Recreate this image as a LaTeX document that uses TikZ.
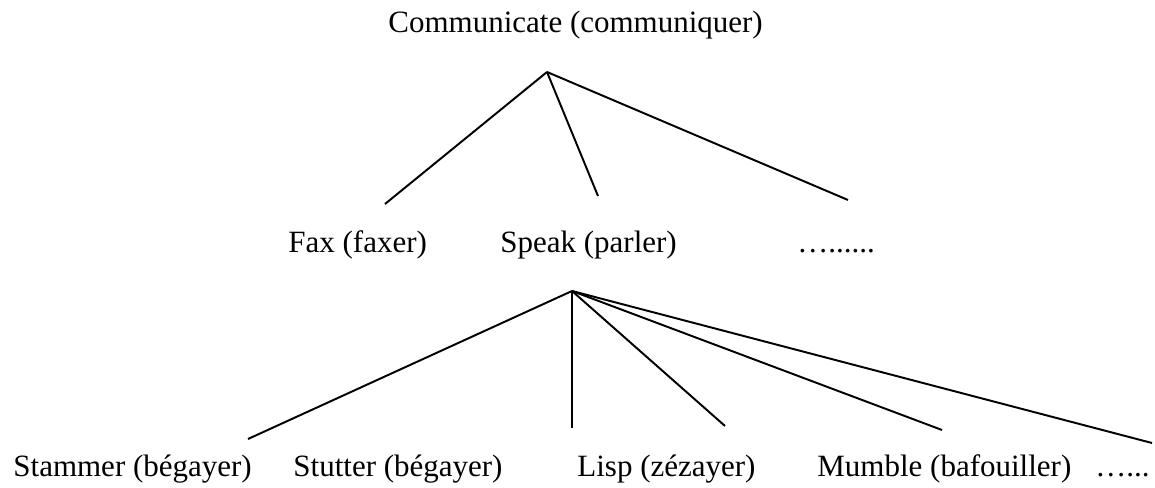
\documentclass[tikz,border=0pt]{standalone}
\usepackage{fontspec}
\setmainfont{Liberation Serif}
\usetikzlibrary{positioning}

\begin{document}
\begin{tikzpicture}[
  x=0.01622cm, y=-0.01622cm,
  word/.style={anchor=base west, inner sep=0pt, font=\fontsize{14.3}{17}\selectfont},
  branch/.style={line width=0.9pt, color=black}
]
  \useasboundingbox (0,0) rectangle (1155,488);

  % labels
  \node[word] (comm)  at (388,33)  {Communicate (communiquer)};
  \node[word] (fax)   at (288,253) {Fax (faxer)};
  \node[word] (speak) at (500,253) {Speak (parler)};
  \node[word] (more1) at (797,253) {…......};
  \node[word] (stam)  at (13,476)  {Stammer (bégayer)};
  \node[word] (stut)  at (293,476) {Stutter (bégayer)};
  \node[word] (lisp)  at (577,476) {Lisp (zézayer)};
  \node[word] (mumb)  at (817,476) {Mumble (bafouiller)};
  \node[word] (more2) at (1095,476) {…...};

  % branch points and line ends
  \coordinate (top)   at (547,72);
  \coordinate (tfax)  at (385,204);
  \coordinate (tspk)  at (598,196);
  \coordinate (tmor)  at (848,200);
  \coordinate (mid)   at (572,291);
  \coordinate (bstam) at (248,439);
  \coordinate (bstut) at (572,428);
  \coordinate (blisp) at (725,426);
  \coordinate (bmumb) at (942,430);
  \coordinate (bmore) at (1152,443);

  \draw[branch] (top)--(tfax);
  \draw[branch] (top)--(tspk);
  \draw[branch] (top)--(tmor);
  \draw[branch] (mid)--(bstam);
  \draw[branch] (mid)--(bstut);
  \draw[branch] (mid)--(blisp);
  \draw[branch] (mid)--(bmumb);
  \draw[branch] (mid)--(bmore);
\end{tikzpicture}
\end{document}
